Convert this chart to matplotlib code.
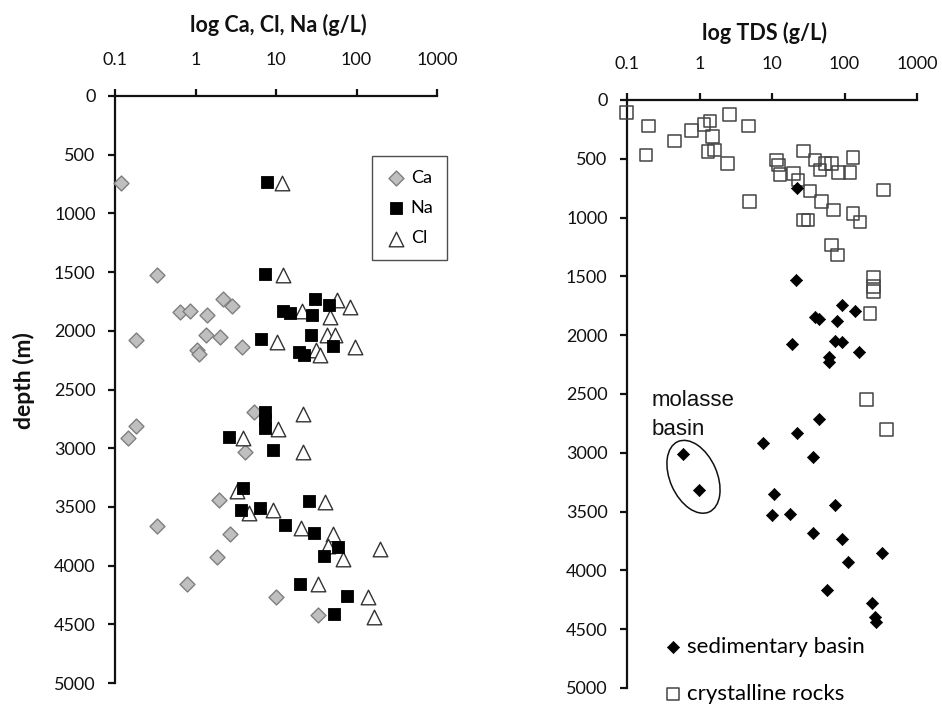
import matplotlib
matplotlib.use("Agg")
import matplotlib.pyplot as plt
from matplotlib.patches import Ellipse
from matplotlib.transforms import ScaledTranslation

plt.rcParams['font.family'] = ['Lato', 'DejaVu Sans']

# ─── left panel: Ca, Na, Cl (g/L) vs depth (m) ────────────────────────────────
ca_val = [0.12, 0.33, 0.64, 0.86, 1.38, 2.18, 2.82, 0.18, 1.35, 2.01, 3.75, 1.03,
          1.11, 0.18, 0.146, 5.33, 4.12, 1.98, 0.33, 2.68, 1.83, 0.79, 10.0, 33.6]
ca_depth = [740, 1525, 1840, 1830, 1867, 1725, 1790, 2080, 2037, 2052, 2137, 2165,
            2200, 2813, 2910, 2691, 3032, 3444, 3666, 3728, 3927, 4160, 4268, 4424]

na_val = [7.65, 7.3, 12.3, 14.9, 30.5, 27.7, 45.9, 6.6, 26.9, 51.5, 19.5, 22.3,
          7.3, 7.3, 7.3, 2.63, 9.1, 3.85, 3.64, 6.3, 25.9, 12.9, 29.6, 59.4,
          39.4, 19.9, 75.5, 52.5]
na_depth = [730, 1517, 1830, 1847, 1733, 1867, 1782, 2066, 2037, 2131, 2180, 2208,
            2690, 2760, 2830, 2904, 3018, 3336, 3523, 3509, 3450, 3657, 3720, 3842,
            3921, 4154, 4262, 4416]

cl_val = [11.8, 12.3, 20.8, 56.6, 83.0, 46.9, 10.2, 42.6, 54.0, 95.7, 31.0, 35.2,
          21.4, 10.5, 3.85, 21.4, 3.24, 40.6, 4.67, 9.1, 20.2, 51.5, 44.0, 67.3,
          195.0, 33.6, 140.0, 165.0]
cl_depth = [739, 1526, 1833, 1739, 1796, 1881, 2094, 2037, 2037, 2137, 2165, 2208,
            2705, 2833, 2910, 3032, 3365, 3459, 3552, 3523, 3677, 3728, 3830, 3941,
            3856, 4154, 4268, 4440]

# ─── right panel: TDS (g/L) vs depth (m) ──────────────────────────────────────
cry_val = [0.098, 0.197, 0.183, 0.449, 0.78, 1.15, 1.40, 1.52, 1.32, 1.60, 2.58,
           4.71, 2.42, 4.86, 11.6, 12.2, 12.9, 27.0, 19.7, 23.0, 39.2, 45.9, 53.8,
           66.5, 82.2, 119.0, 132.0, 33.4, 343.0, 48.4, 70.0, 132.0, 164.0, 27.0,
           31.6, 66.5, 79.5, 250.0, 250.0, 250.0, 225.0, 202.0, 382.0]
cry_depth = [105, 219, 468, 349, 261, 207, 179, 312, 440, 425, 122, 219, 539, 865,
             511, 553, 633, 434, 624, 681, 511, 596, 539, 539, 616, 616, 491, 774,
             766, 865, 936, 964, 1036, 1021, 1021, 1234, 1319, 1504, 1585, 1630,
             1816, 2548, 2803]

sed_val = [21.9, 21.4, 91.4, 140.0, 39.2, 44.9, 79.6, 18.7, 74.0, 91.4, 160.0, 61.7,
           61.7, 44.5, 21.9, 7.45, 36.4, 0.60, 0.99, 10.8, 74.0, 10.1, 17.7, 36.4,
           91.4, 326.0, 113.0, 58.0, 237.0, 264.0, 270.0]
sed_depth = [746, 1532, 1745, 1793, 1844, 1858, 1881, 2079, 2048, 2057, 2142, 2184,
             2227, 2709, 2831, 2916, 3036, 3013, 3313, 3353, 3447, 3532, 3523, 3679,
             3730, 3853, 3929, 4164, 4278, 4397, 4440]

xticks = [0.1, 1, 10, 100, 1000]
xtick_labels = ["0.1", "1", "10", "100", "1000"]
yticks = list(range(0, 5001, 500))

W, H = 942, 708
fig = plt.figure(figsize=(W / 100, H / 100), dpi=100)


def style_axis(ax):
    ax.set_xscale("log")
    ax.set_xlim(0.1, 1000)
    ax.set_ylim(5000, 0)
    ax.xaxis.set_ticks_position("top")
    ax.set_xticks(xticks)
    ax.set_xticklabels(xtick_labels)
    ax.xaxis.set_minor_locator(matplotlib.ticker.NullLocator())
    ax.set_yticks(yticks)
    ax.set_yticklabels([str(v) for v in yticks])
    for s in ("bottom", "right"):
        ax.spines[s].set_visible(False)
    for s in ("top", "left"):
        ax.spines[s].set_linewidth(1.6)
        ax.spines[s].set_color("#111")
    ax.tick_params(axis="x", direction="out", length=5, width=1.6, pad=15,
                   labelsize=13, colors="#111")
    ax.tick_params(axis="y", direction="out", length=5, width=1.6, pad=9,
                   labelsize=13, colors="#111")


# ─── left axes ────────────────────────────────────────────────────────────────
ax1 = fig.add_axes([115 / W, 1 - 683 / H, 322 / W, 587 / H])
style_axis(ax1)
ax1.scatter(ca_val, ca_depth, marker="D", s=7.6 ** 2, facecolor="#bfbfbf",
            edgecolor="#7f7f7f", linewidth=1.0, label="Ca", zorder=3, clip_on=False)
ax1.scatter(cl_val, cl_depth, marker="^", s=10.5 ** 2, facecolor="white",
            edgecolor="#333", linewidth=1.0, label="Cl", zorder=4, clip_on=False)
ax1.scatter(na_val, na_depth, marker="s", s=9.3 ** 2, facecolor="black",
            edgecolor="black", linewidth=0.6, label="Na", zorder=5, clip_on=False)
h, l = ax1.get_legend_handles_labels()
order = [0, 2, 1]
leg1 = ax1.legend([h[i] for i in order], [l[i] for i in order],
                  loc="upper right", bbox_to_anchor=(447 / W, 1 - 156 / H),
                  bbox_transform=fig.transFigure, fontsize=13, frameon=True,
                  fancybox=False, edgecolor="#222", scatterpoints=1,
                  handlelength=1.2, handletextpad=0.2, borderpad=0.75,
                  labelspacing=0.8, borderaxespad=0)
leg1.get_frame().set_linewidth(1.0)
fig.text(278 / W, 1 - 25 / H, "log Ca, Cl, Na (g/L)", ha="center", va="center",
         fontsize=15.5, fontweight="bold", color="#111")
fig.text(24 / W, 1 - 381 / H, "depth (m)", ha="center", va="center",
         rotation=90, fontsize=16.5, fontweight="bold", color="#111")

# ─── right axes ───────────────────────────────────────────────────────────────
ax2 = fig.add_axes([627 / W, 1 - 688 / H, 290 / W, 588 / H])
style_axis(ax2)
ax2.scatter(cry_val, cry_depth, marker="s", s=9.0 ** 2, facecolor="none",
            edgecolor="#444", linewidth=1.1, label="crystalline rocks", zorder=3,
            clip_on=False)
ax2.scatter(sed_val, sed_depth, marker="D", s=6.2 ** 2, facecolor="black",
            edgecolor="black", linewidth=0.5, label="sedimentary basin", zorder=4,
            clip_on=False)
h2, l2 = ax2.get_legend_handles_labels()
leg2 = ax2.legend([h2[1], h2[0]], [l2[1], l2[0]], loc="upper left",
                  bbox_to_anchor=(664 / W, 1 - 637 / H),
                  bbox_transform=fig.transFigure, fontsize=16, frameon=False,
                  scatterpoints=1, handlelength=0.8, handletextpad=0.23,
                  borderpad=0.0, labelspacing=1.2, borderaxespad=0)
fig.text(765 / W, 1 - 33 / H, "log TDS (g/L)", ha="center", va="center",
         fontsize=15.5, fontweight="bold", color="#111")

# molasse basin note + ellipse
ax2.text(0.221, 2470, "molasse\nbasin", ha="left", va="top", fontsize=16,
         family="Liberation Sans", linespacing=1.5, color="#111")
trans = fig.dpi_scale_trans + ScaledTranslation(0.826, 3204, ax2.transData)
ax2.add_patch(Ellipse((0, 0), 0.47, 0.77, angle=24, transform=trans,
                      facecolor="none", edgecolor="#111", linewidth=1.1))

fig.savefig("out.png", dpi=100)
